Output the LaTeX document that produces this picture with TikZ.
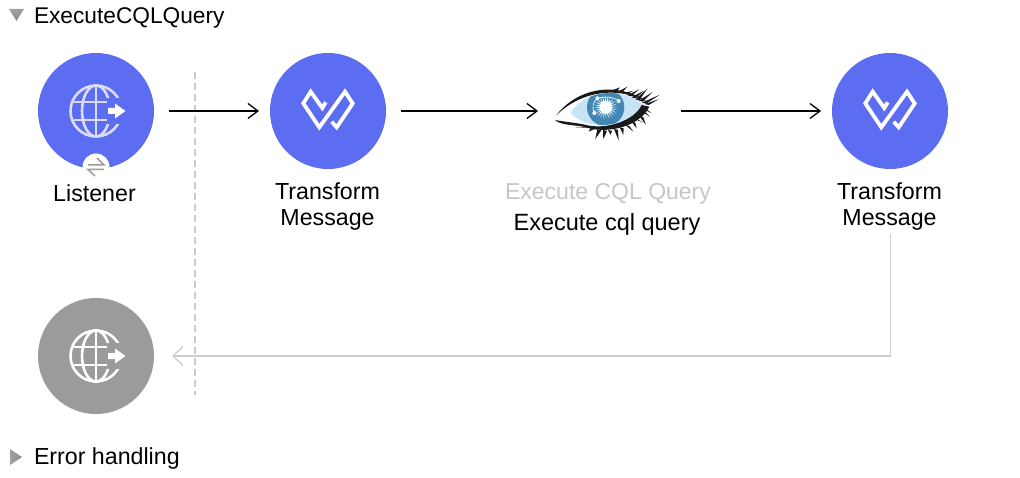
\documentclass[tikz,border=0pt]{standalone}
\usepackage{fontspec}
\setmainfont{Liberation Sans}
\usetikzlibrary{arrows.meta,calc}
\definecolor{flowblue}{HTML}{5C6DF2}
\definecolor{flowgray}{HTML}{9B9B9B}
\definecolor{globeline}{HTML}{DADDFA}
\definecolor{linegray}{HTML}{CCCCCC}
\definecolor{titlegray}{HTML}{C6C6C6}
\definecolor{tri}{HTML}{8A8A8A}
\definecolor{sclera}{HTML}{C7E4F6}
\definecolor{iris}{HTML}{4286B4}
\tikzset{
  x=1pt,y=-1pt,
  every node/.style={inner sep=0pt,outer sep=0pt},
  label text/.style={font=\fontsize{23.2}{26}\selectfont,align=center,text=black},
  flowdisc/.style={circle,minimum size=116pt,fill=#1},
  flowarrow/.style={draw=black,line width=1.3pt,-{Straight Barb[length=10pt,width=15pt,line width=1.3pt]}},
  backarrow/.style={draw=linegray,line width=1.3pt,-{Straight Barb[length=10pt,width=19pt,line width=1.3pt]}},
  pics/globe/.style n args={3}{code={
    \draw[#1,line width=2.6pt] (0,0) circle[radius=25.5];
    \draw[#1,line width=2.6pt] (0,0) ellipse[x radius=14,y radius=25.5];
    \draw[#1,line width=2.6pt] (0,-25) -- (0,25);
    \draw[#1,line width=2.6pt] (-22,-9) -- (22,-9) (-22,9) -- (22,9);
    \fill[#2] (11,-13) rectangle (31,13);
    \fill[#3] (12,-3) -- (19,-3) -- (19,-7.5) -- (29.5,0) -- (19,7.5) -- (19,3) -- (12,3) -- cycle;
  }},
  pics/dwlogo/.style={code={
    \draw[white,line width=3.8pt,miter limit=10]
      (-2.3,-8.7) -- (-5.7,-3) -- (-17.3,-19.3) -- (-24.7,-7.7) -- (-8.7,16.3)
      -- (17,-19.3) -- (24.7,-7.5) -- (8.7,16.3) -- (3.7,10.7);
  }},
}
\begin{document}
\begin{tikzpicture}
\path[use as bounding box] (0,0) rectangle (1020,478);

% section headers
\shade[top color=tri!80,bottom color=tri] (9,9) -- (24,9) -- (16.5,21) -- cycle;
\node[label text,font=\fontsize{22.7}{26}\selectfont,anchor=west] (title) at (34,18) {ExecuteCQLQuery};
\shade[left color=tri!80,right color=tri] (10,449) -- (22,457) -- (10,465) -- cycle;
\node[label text,anchor=west] (err) at (34,459) {Error handling};

% discs
\node[flowdisc=flowblue] (listener) at (96,111) {};
\node[flowdisc=flowblue] (tmone) at (328,111) {};
\node[minimum width=116pt,minimum height=90pt] (eye) at (607,111) {};
\node[flowdisc=flowblue] (tmtwo) at (890,111) {};
\node[flowdisc=flowgray] (resp) at (96,356) {};

% icons
\pic at (listener.center) {globe={globeline}{flowblue}{white}};
\pic at (resp.center) {globe={white}{flowgray}{white}};
\pic at (tmone.center) {dwlogo};
\pic at (tmtwo.center) {dwlogo};

% badge
\node[circle,fill=white,minimum size=27pt] (badge) at (96,167) {};
\draw[flowgray,line width=1.5pt] (88,165) -- (104,165) -- (97,158);
\draw[flowgray,line width=1.5pt] (104,169.5) -- (88,169.5) -- (95,176);

% eye
\begin{scope}[shift={(540,70)},x=0.3333pt,y=-0.3333pt]
  \fill[white] (48,150) .. controls (120,60) and (240,40) .. (320,100)
     .. controls (300,145) and (200,185) .. (130,163) -- cycle;
  \begin{scope}
    \clip (92,130) .. controls (125,65) and (240,45) .. (312,105)
     .. controls (290,150) and (200,180) .. (135,158) .. controls (115,150) and (105,140) .. (92,130) -- cycle;
    \fill[sclera] (40,40) rectangle (340,200);
    \fill[iris] (197,112) circle[radius=56];
    \foreach \a in {0,15,...,345}{
      \fill[white] (197,112) ++(\a-6:16) -- ++(\a:20) -- ($(197,112)+(\a+6:16)$) -- cycle;
    }
    \fill[white] (197,112) circle[radius=19];
    \fill[white] (172,85) circle[radius=6] (236,93) circle[radius=6] (163,129) circle[radius=6];
    \draw[white,line width=0.6pt] (172,85) .. controls (200,78) and (225,82) .. (236,93) (172,85) .. controls (158,95) and (155,115) .. (163,129);
  \end{scope}
  % lids
  \fill[black!90] (48,137) .. controls (110,55) and (230,30) .. (325,98)
     .. controls (230,45) and (120,65) .. (48,137) -- cycle;
  \fill[black!90] (45,150) .. controls (70,155) and (105,158) .. (135,164)
     .. controls (200,182) and (285,150) .. (305,105) -- (328,110)
     .. controls (300,170) and (200,195) .. (130,170) .. controls (100,165) and (60,165) .. (45,150) -- cycle;
  \foreach \bx/\by/\tx/\ty in {225/60/240/52,240/65/262/50,255/70/280/62,268/76/297/58,280/82/312/62,292/88/322/56,302/92/338/66,312/98/360/74,320/102/356/88,
     318/118/335/130,312/125/330/140,304/138/318/165,292/148/310/158,280/155/290/175,262/165/280/185,245/172/250/195,228/177/236/212,210/180/212/195,195/180/190/208,178/178/166/207,158/174/146/185,138/170/105/172}{
    \fill[black!90] (\bx-6,\by) -- (\tx,\ty) -- (\bx+6,\by+3) -- cycle;
  }
\end{scope}

% labels
\node[label text] (llistener) at (94.5,193.5) {Listener};
\node[label text] (ltmone) at (327.5,207) {Transform\\Message};
\node[label text,font=\fontsize{23}{26}\selectfont,text=titlegray] (leyetitle) at (608,194) {Execute CQL Query};
\node[label text,font=\fontsize{23.5}{26}\selectfont] (leye) at (607,224) {Execute cql query};
\node[label text] (ltmtwo) at (889.5,207) {Transform\\Message};

% dashed source separator
\coordinate (dtop) at (195,72);
\coordinate (dbot) at (195,395);
\draw[linegray,line width=1.2pt,dash pattern=on 7pt off 4pt] (dtop) -- (dbot);

% connectors
\draw[flowarrow,shorten <=15pt,shorten >=11pt] (listener) -- (tmone);
\draw[flowarrow,shorten <=15pt,shorten >=11pt] (tmone) -- (eye);
\draw[flowarrow,shorten <=16pt,shorten >=11pt] (eye) -- (tmtwo);
\draw[backarrow,shorten >=18pt] (ltmtwo.south) ++(1,3) |- (resp);
\end{tikzpicture}
\end{document}
